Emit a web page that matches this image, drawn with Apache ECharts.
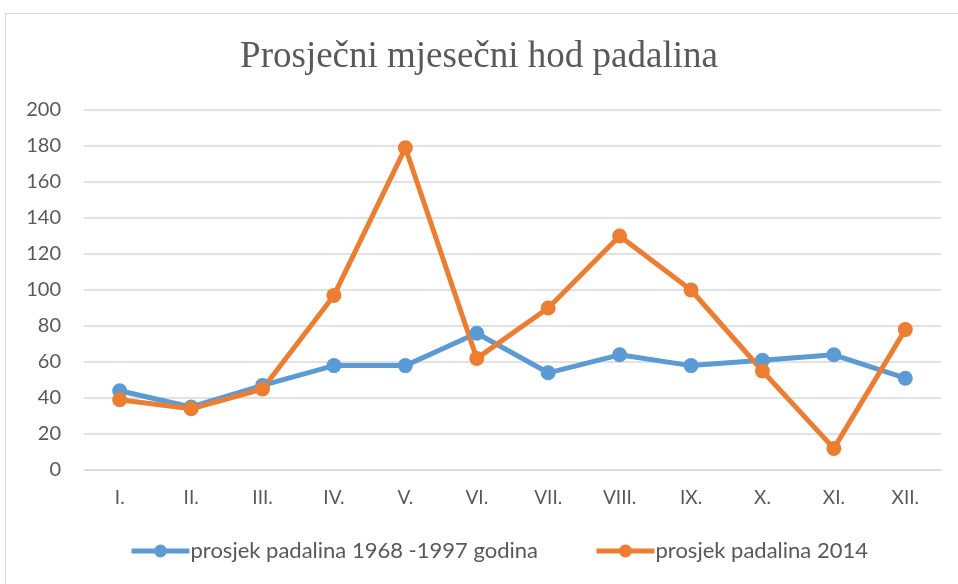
<!DOCTYPE html>
<html>
<head>
<meta charset="utf-8">
<script src="https://cdn.jsdelivr.net/npm/echarts@6/dist/echarts.min.js"></script>
<style>
  html, body { margin: 0; padding: 0; background: #fff; }
  #frame { position: absolute; left: 5px; top: 13px; width: 970px; height: 600px; border: 1.5px solid #D9D9D9; box-sizing: border-box; }
  #chart { position: absolute; left: 0; top: 0; width: 958px; height: 584px; }
</style>
</head>
<body>
<div id="frame"></div>
<div id="chart"></div>
<script>
const titleText = 'Prosječni mjesečni hod padalina';
const months = ['I.', 'II.', 'III.', 'IV.', 'V.', 'VI.', 'VII.', 'VIII.', 'IX.', 'X.', 'XI.', 'XII.'];
const seriesNames = ['prosjek padalina 1968 -1997 godina', 'prosjek padalina 2014'];
const avg1968_1997 = [44, 35, 47, 58, 58, 76, 54, 64, 58, 61, 64, 51];
const avg2014 = [39, 34, 45, 97, 179, 62, 90, 130, 100, 55, 12, 78];
const colors = ['#5B9BD5', '#ED7D31'];

const chart = echarts.init(document.getElementById('chart'), null, { renderer: 'canvas' });
const labelFont = 'Lato, "Open Sans", sans-serif';
chart.setOption({
  animation: false,
  backgroundColor: 'transparent',
  title: {
    text: titleText,
    left: 'center',
    top: 34,
    textStyle: { fontFamily: '"Liberation Serif", serif', fontSize: 37, fontWeight: 'normal', color: '#595959' }
  },
  legend: {
    data: seriesNames,
    bottom: 17,
    left: 124,
    itemWidth: 58,
    itemHeight: 16,
    itemGap: 56,
    lineStyle: { width: 5 },
    textStyle: { fontFamily: labelFont, fontSize: 22, color: '#595959', padding: [0, 0, 0, -4] }
  },
  grid: { left: 84, right: 17, top: 110, bottom: 114, containLabel: false },
  xAxis: {
    type: 'category',
    data: months,
    boundaryGap: true,
    axisLine: { show: true, lineStyle: { color: '#D9D9D9', width: 1.5 } },
    axisTick: { show: false },
    axisLabel: { fontFamily: labelFont, fontSize: 19, color: '#595959', margin: 18 }
  },
  yAxis: {
    type: 'value',
    min: 0,
    max: 200,
    interval: 20,
    axisLine: { show: false },
    axisTick: { show: false },
    axisLabel: { fontFamily: labelFont, fontSize: 20, color: '#595959', margin: 23 },
    splitLine: { lineStyle: { color: '#D9D9D9', width: 1.5 } }
  },
  series: [
    {
      name: seriesNames[0], type: 'line', data: avg1968_1997,
      symbol: 'circle', symbolSize: 15,
      lineStyle: { color: colors[0], width: 5 },
      itemStyle: { color: colors[0] }
    },
    {
      name: seriesNames[1], type: 'line', data: avg2014,
      symbol: 'circle', symbolSize: 15,
      lineStyle: { color: colors[1], width: 5 },
      itemStyle: { color: colors[1] }
    }
  ]
});
</script>
</body>
</html>
